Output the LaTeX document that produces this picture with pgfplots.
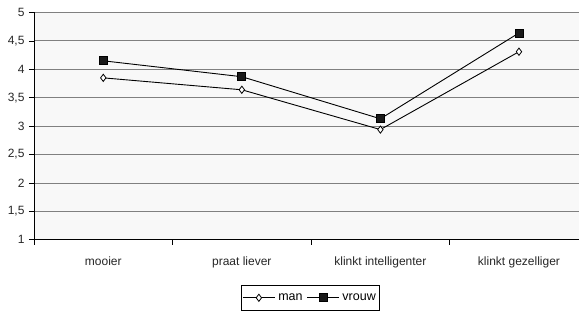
\documentclass[border=0pt]{standalone}
\usepackage{pgfplots}
\pgfplotsset{compat=1.18}
\usepackage{fontspec}
\setmainfont{Liberation Sans}
\definecolor{bgc}{HTML}{F8F8F8}
\definecolor{gridc}{HTML}{808080}
\begin{document}
\begin{tikzpicture}[x=1pt,y=1pt]
\begin{axis}[
  at={(0,0)}, anchor=south west,
  scale only axis,
  width=545pt, height=227.5pt,
  xmin=-0.5, xmax=3.43,
  ymin=1, ymax=5,
  ytick={1,1.5,2,2.5,3,3.5,4,4.5,5},
  xtick={0,1,2,3},
  xticklabels={mooier, praat liever, klinkt intelligenter, klinkt gezelliger},
  minor xtick={-0.5,0.5,1.5,2.5},
  major x tick style={draw=none},
  minor x tick style={black, line width=0.8pt},
  minor tick length=5pt,
  y tick style={black, line width=0.8pt},
  major tick length=5pt,
  tick align=outside,
  axis x line*=bottom, axis y line*=left,
  axis line style={black, line width=0.9pt},
  ymajorgrids, grid style={gridc, line width=0.9pt},
  axis background/.style={fill=bgc},
  /pgf/number format/use comma,
  /pgf/number format/assume math mode=true,
  tick label style={font=\fontsize{12}{14}\selectfont, text=black!85},
  yticklabel style={xshift=-1pt},
  xticklabel style={yshift=-8pt},
  legend style={at={(0.508,-0.255)}, anchor=center, draw=black, line width=0.6pt,
    font=\fontsize{12.5}{14}\selectfont, legend columns=2,
    inner xsep=1pt, inner ysep=6pt,
    nodes={inner xsep=3pt, inner ysep=2pt},
    /tikz/every even column/.append style={column sep=1pt}},
  legend image code/.code={
    \draw[#1, mark repeat=2, mark phase=2] plot coordinates {(0pt,0pt) (16pt,0pt) (32pt,0pt)};},
]
\addplot[black, line width=0.9pt, mark=diamond*, mark options={fill=white, line width=0.8pt}, mark size=3.6pt]
  coordinates {(0,3.85) (1,3.64) (2,2.94) (3,4.31)};
\addlegendentry{man}
\addplot[black, line width=0.9pt, mark=square*, mark options={fill=black!90}, mark size=4pt]
  coordinates {(0,4.15) (1,3.87) (2,3.13) (3,4.64)};
\addlegendentry{vrouw}
\end{axis}
\path[use as bounding box] (-34pt,-74pt) rectangle (545pt,240pt);
\end{tikzpicture}
\end{document}
